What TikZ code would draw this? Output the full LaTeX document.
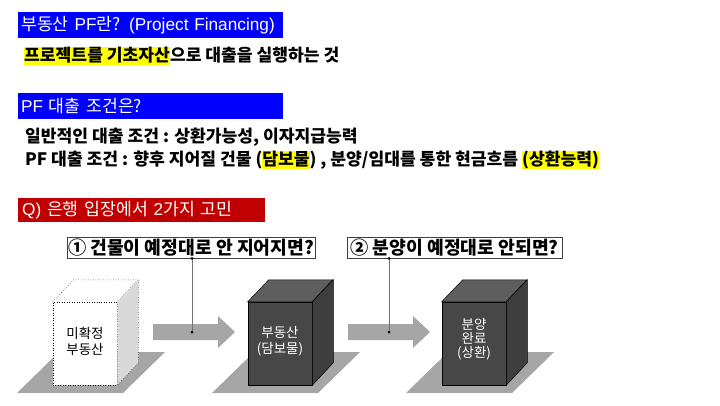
\documentclass[tikz,border=0pt]{standalone}
\usepackage{fontspec}
\setmainfont{Noto Sans CJK KR}
\newfontfamily\lat{Liberation Sans}
\usepackage{tikz}
\usetikzlibrary{positioning}

\definecolor{barblue}{HTML}{0000FF}
\definecolor{barred}{HTML}{C00000}
\definecolor{hlyellow}{HTML}{FFFF00}
\definecolor{flatgray}{HTML}{A6A6A6}
\definecolor{facefront}{HTML}{474747}
\definecolor{facetop}{HTML}{5E5E5E}
\definecolor{faceside}{HTML}{3E3E3E}

\newcommand{\hl}[1]{{\setlength{\fboxsep}{0pt}\colorbox{hlyellow}{\rule[-0.2em]{0pt}{1.05em}#1}}}

\begin{document}
\begin{tikzpicture}[x=1bp,y=-1bp,
	bar/.style={anchor=north west,minimum height=26bp,text width=259bp,inner sep=3bp,align=left,text=white,font=\fontsize{17.3}{19}\selectfont},
	line/.style={anchor=west,inner sep=0pt,font=\bfseries\fontsize{17.2}{19}\selectfont},
	question/.style={draw=black!75,line width=0.7bp,fill=white,minimum height=21bp,inner sep=0pt,font=\bfseries\fontsize{18.3}{19}\selectfont},
	front/.style={draw=black,line width=0.5bp,minimum width=64bp,minimum height=83bp,inner sep=0pt},
	cubetext/.style={align=center,text=white,font=\fontsize{13.5}{16}\selectfont},
	stem/.style={draw=black!55,line width=0.8bp},
	dot/.style={circle,fill=black,inner sep=0pt,minimum size=3bp}]
\useasboundingbox (0,0) rectangle (720,405);

% heading bars and text lines
\node[bar,fill=barblue] (head1) at (18,12) {\mbox{부동산 {\lat PF}란? {\lat (Project Financing)}}};
\node[line] (def) at (24,56) {\hl{프로젝트를 기초자산}으로 대출을 실행하는 것};
\node[bar,fill=barblue] (head2) at (18,93) {\mbox{{\lat PF} 대출 조건은?}};
\node[line] (cond1) at (25,137) {일반적인 대출 조건 : 상환가능성, 이자지급능력};
\node[line] (cond2) at (25,160) {PF 대출 조건 : 향후 지어질 건물 (\hl{담보물}) , 분양/임대를 통한 현금흐름 \hl{(상환능력)}};
\node[bar,fill=barred,minimum height=24bp,text width=239bp,inner xsep=4bp] (head3) at (18,198) {\mbox{{\lat Q)} 은행 입장에서 {\lat 2}가지 고민}};

% shadows under the blocks
\foreach \x in {53,248,442}
	\fill[flatgray] (\x+6,352) -- (\x+112,352) -- (\x+70,393) -- (\x-36,393) -- cycle;

% flat arrows
\fill[flatgray] (153,324) -- (218,324) -- (218,316) -- (235,332) -- (218,348) -- (218,340) -- (153,340) -- cycle;
\fill[flatgray] (348,324) -- (413,324) -- (413,316) -- (430,332) -- (413,348) -- (413,340) -- (348,340) -- cycle;
\coordinate (arr1) at (192,332);
\coordinate (arr2) at (389,332);

% blocks
\node[front,fill=white,dotted] (cube1) at (85,343.5) {};
\fill[white] (cube1.north west) -- ++(21,-22) -- ++(64,0) -- (cube1.north east) -- cycle;
\draw[dotted,line width=0.5bp] (cube1.north west) -- ++(21,-22) -- ++(64,0) -- (cube1.north east);
\fill[black!15] (cube1.north east) -- ++(21,-22) -- ++(0,83) -- (cube1.south east) -- cycle;
\draw[dotted,line width=0.5bp] (cube1.north east) ++(21,-22) -- ++(0,83) -- (cube1.south east);
\node[cubetext,text=black] (txt1) at ([yshift=2bp]cube1.center) {미확정\\부동산};

\node[front,fill=facefront] (cube2) at (280,343.5) {};
\filldraw[fill=facetop,line width=0.5bp] (cube2.north west) -- ++(21,-22) -- ++(64,0) -- (cube2.north east) -- cycle;
\filldraw[fill=faceside,line width=0.5bp] (cube2.north east) -- ++(21,-22) -- ++(0,83) -- (cube2.south east) -- cycle;
\node[cubetext] (txt2) at ([yshift=2bp]cube2.center) {부동산\\(담보물)};

\node[front,fill=facefront] (cube3) at (474,343.5) {};
\filldraw[fill=facetop,line width=0.5bp] (cube3.north west) -- ++(21,-22) -- ++(64,0) -- (cube3.north east) -- cycle;
\filldraw[fill=faceside,line width=0.5bp] (cube3.north east) -- ++(21,-22) -- ++(0,83) -- (cube3.south east) -- cycle;
\node[cubetext,font=\fontsize{13.5}{14}\selectfont] (txt3) at ([yshift=4bp]cube3.center) {분양\\완료\\(상환)};

% questions
\node[question,minimum width=248bp] (q1) at (191,247.5) {① 건물이 예정대로 안 지어지면?};
\node[question,minimum width=215bp] (q2) at (454.5,247.5) {② 분양이 예정대로 안되면?};
\draw[stem] (arr1 |- q1.south) -- (arr1);
\draw[stem] (arr2 |- q2.south) -- (arr2);
\node[dot] (top1) at (arr1 |- q1.south) {};
\node[dot] (top2) at (arr2 |- q2.south) {};
\node[dot] (end1) at (arr1) {};
\node[dot] (end2) at (arr2) {};
\end{tikzpicture}
\end{document}
